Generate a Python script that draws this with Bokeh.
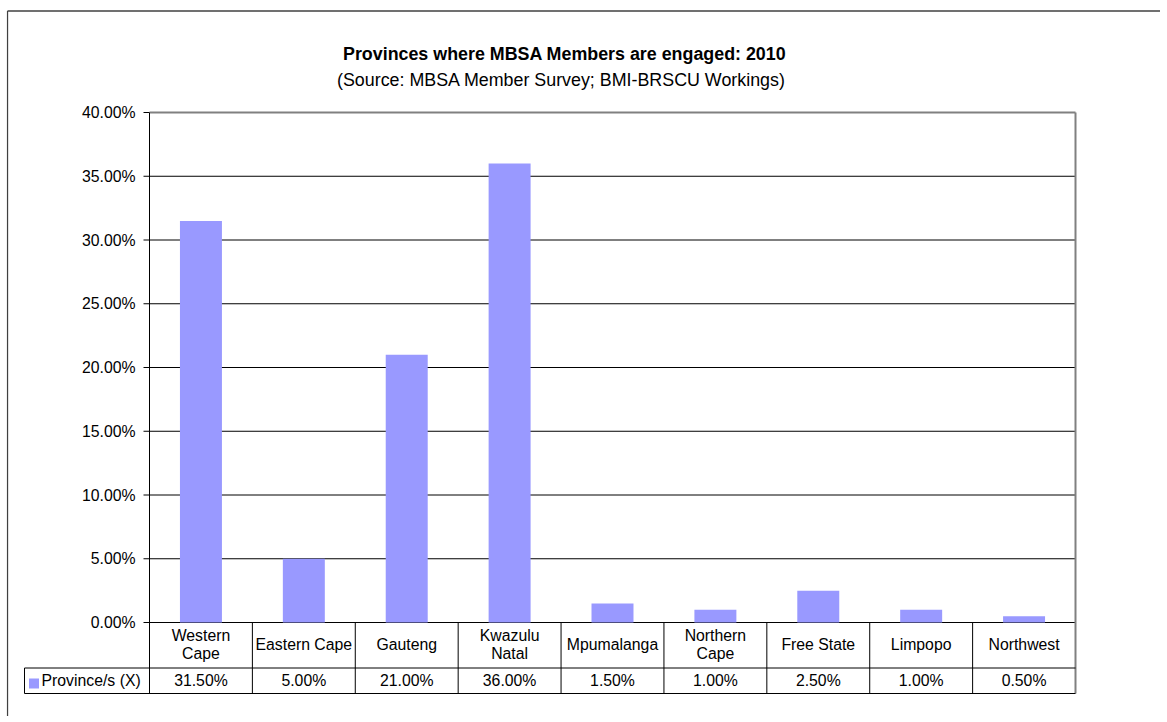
from bokeh.plotting import figure
from bokeh.models import (Range1d, FixedTicker, NumeralTickFormatter,
                          ColumnDataSource, LinearAxis)
from bokeh.core.properties import value
from bokeh.embed import file_html
from bokeh.resources import INLINE

# ---------------- data ----------------
TITLE = "Provinces where MBSA Members are engaged: 2010"
SUBTITLE = "(Source: MBSA Member Survey; BMI-BRSCU Workings)"
SERIES_NAME = "Province/s (X)"
CATEGORIES = ["Western Cape", "Eastern Cape", "Gauteng", "Kwazulu Natal",
              "Mpumalanga", "Northern Cape", "Free State", "Limpopo", "Northwest"]
CATEGORY_LABELS = ["Western\nCape", "Eastern Cape", "Gauteng", "Kwazulu\nNatal",
                   "Mpumalanga", "Northern\nCape", "Free State", "Limpopo", "Northwest"]
VALUES_PCT = [31.5, 5.0, 21.0, 36.0, 1.5, 1.0, 2.5, 1.0, 0.5]
Y_TICKS = [0.0, 0.05, 0.10, 0.15, 0.20, 0.25, 0.30, 0.35, 0.40]

# ---------------- layout constants (page pixels) ----------------
FONT = "Liberation Sans"
FS = "15.8px"
TFS = "17.85px"
BAR_COLOR = "#9999FF"
BORDER = "#404040"
PLOT_EDGE = "#808080"
W, H = 1160, 716
FRAME_L, FRAME_T = 6, 9
PLOT_L, PLOT_R = 149, 1075
PLOT_T, ZERO_Y = 112, 622
ROW_SPLIT, TABLE_B = 667.5, 693
LEG_L = 24
TICK_L = 143
LABEL_R = 135
N = len(CATEGORIES)
CAT_PX = (PLOT_R - PLOT_L) / N
PX_PER_UNIT = (ZERO_Y - PLOT_T) / 0.40


def dx(px):
    return (px - PLOT_L) / CAT_PX


def dy(py):
    return (ZERO_Y - py) / PX_PER_UNIT


Y_TOP = Y_TICKS[-1]
y_tb = dy(TABLE_B)
y_rs = dy(ROW_SPLIT)

p = figure(width=W, height=H,
           x_range=Range1d(dx(FRAME_L), dx(W)), y_range=Range1d(dy(H), dy(FRAME_T)),
           x_axis_location=None, y_axis_location=None,
           toolbar_location=None, output_backend="svg",
           min_border_left=FRAME_L, min_border_right=0,
           min_border_top=FRAME_T, min_border_bottom=0,
           background_fill_color="white", border_fill_color="white",
           outline_line_color=None)
p.xgrid.visible = False
p.ygrid.visible = False

# y axis: only its tick labels are shown, placed left of the plot area
ax = LinearAxis(ticker=FixedTicker(ticks=Y_TICKS),
                formatter=NumeralTickFormatter(format="0.00%"))
ax.axis_line_color = None
ax.major_tick_line_color = None
ax.minor_tick_line_color = None
ax.major_tick_out = 0
ax.major_tick_in = 0
ax.major_label_standoff = -(LABEL_R - FRAME_L)
ax.major_label_text_font = FONT
ax.major_label_text_font_size = FS
ax.major_label_text_color = "black"
p.add_layout(ax, "left")

# outer chart border (left and top edges)
p.segment(x0=[dx(7), dx(7)], y0=[dy(10.5), dy(10.5)], x1=[dx(7), dx(W)], y1=[dy(H), dy(10.5)],
          line_color=BORDER, line_width=1.3)

# titles
p.text(x=dx(342.5), y=dy(53.5), text=[TITLE], text_align="left", text_baseline="alphabetic",
       text_font=value(FONT), text_font_size=TFS, text_font_style="bold", text_color="black")
p.text(x=dx(336.5), y=dy(79.5), text=[SUBTITLE], text_align="left", text_baseline="alphabetic",
       text_font=value(FONT), text_font_size=TFS, text_color="black")

# gridlines with their tick marks
grid_ticks = Y_TICKS[:-1]
p.segment(x0=dx(TICK_L), y0=grid_ticks, x1=N, y1=grid_ticks, line_color="black", line_width=1)
p.segment(x0=dx(TICK_L), y0=Y_TOP, x1=0, y1=Y_TOP, line_color="black", line_width=1)

# bars
xs = [i + 0.5 for i in range(N)]
src = ColumnDataSource(dict(x=xs, top=[v / 100 for v in VALUES_PCT],
                            label=CATEGORY_LABELS,
                            vtext=[f"{v:.2f}%" for v in VALUES_PCT]))
p.vbar(x="x", top="top", bottom=0, width=0.408, source=src,
       fill_color=BAR_COLOR, line_color=None)

# plot area top / right edges (grey)
p.segment(x0=[0, N], y0=[Y_TOP, Y_TOP], x1=[N, N], y1=[Y_TOP, y_tb],
          line_color=PLOT_EDGE, line_width=2)

# value axis line and data table grid
p.segment(x0=0, y0=Y_TOP, x1=0, y1=y_tb, line_color="black", line_width=1)
p.segment(x0=list(range(1, N)), y0=0, x1=list(range(1, N)), y1=y_tb,
          line_color="black", line_width=1)
p.segment(x0=[dx(LEG_L), dx(LEG_L)], y0=[y_rs, y_tb], x1=[N, N], y1=[y_rs, y_tb],
          line_color="black", line_width=1)
p.segment(x0=dx(LEG_L), y0=y_rs, x1=dx(LEG_L), y1=y_tb, line_color="black", line_width=1)

# table texts
p.text(x="x", y=dy(644), text="label", source=src, text_align="center",
       text_baseline="middle", text_font=value(FONT), text_font_size=FS,
       text_color="black", text_line_height=1.03)
p.text(x="x", y=dy(680), text="vtext", source=src, text_align="center",
       text_baseline="middle", text_font=value(FONT), text_font_size=FS,
       text_color="black")

# legend key of the table
p.rect(x=dx(33.5), y=dy(683), width=10 / CAT_PX, height=10 / PX_PER_UNIT,
       fill_color=BAR_COLOR, line_color=None)
p.text(x=dx(41), y=dy(680), text=[SERIES_NAME], text_align="left",
       text_baseline="middle", text_font=value(FONT), text_font_size=FS,
       text_color="black")

open("out.html", "w").write(file_html(p, INLINE))
